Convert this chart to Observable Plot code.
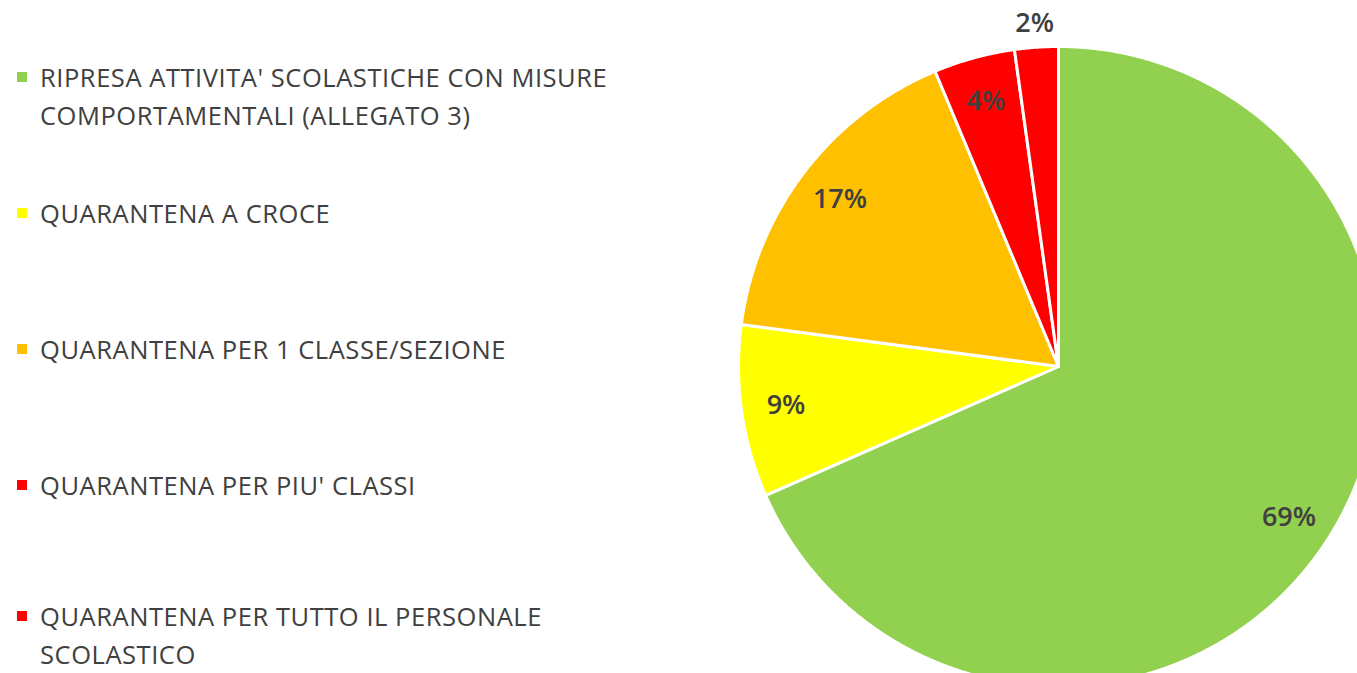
<!DOCTYPE html>
<html>
<head>
<meta charset="utf-8">
<script src="https://cdn.jsdelivr.net/npm/d3@7"></script>
<script src="https://cdn.jsdelivr.net/npm/@observablehq/plot@0.6"></script>
<style>
  html, body { margin: 0; padding: 0; background: #fff; }
  #wrap { position: relative; width: 1357px; height: 673px; overflow: hidden; }
  #legend { position: absolute; left: 0; top: 0; font-family: "Open Sans", sans-serif; color: #404040; font-size: 25.5px; letter-spacing: 0.55px; }
  .item { position: absolute; left: 40px; line-height: 38px; white-space: nowrap; }
  .sw { position: absolute; left: -23px; top: 14px; width: 10px; height: 10px; }
</style>
</head>
<body>
<div id="wrap"></div>
<script>
const categories = [
  "RIPRESA ATTIVITA' SCOLASTICHE CON MISURE\nCOMPORTAMENTALI (ALLEGATO 3)",
  "QUARANTENA A CROCE",
  "QUARANTENA PER 1 CLASSE/SEZIONE",
  "QUARANTENA PER PIU' CLASSI",
  "QUARANTENA PER TUTTO IL PERSONALE\nSCOLASTICO"
];
const values = [68.4, 8.7, 16.6, 4.1, 2.2];
const valueLabels = ["69%", "9%", "17%", "4%", "2%"];
const colors = ["#92D050", "#FFFF00", "#FFC000", "#FF0000", "#FF0000"];

const data = categories.map((c, i) => ({cat: c, value: values[i], label: valueLabels[i], color: colors[i]}));
const arcs = d3.pie().sort(null).value(d => d.value)(data);

const pts = [];
arcs.forEach((a, i) => {
  pts.push({i, x: 0, y: 0, color: a.data.color});
  const n = Math.max(4, Math.ceil((a.endAngle - a.startAngle) / 0.005));
  for (let k = 0; k <= n; k++) {
    const t = a.startAngle + (a.endAngle - a.startAngle) * k / n;
    pts.push({i, x: Math.sin(t), y: Math.cos(t), color: a.data.color});
  }
});

const labelPts = arcs.map(a => {
  const m = (a.startAngle + a.endAngle) / 2;
  const r = a.data.value < 3 ? 1.075 : 0.86;
  return {x: r * Math.sin(m), y: r * Math.cos(m), label: a.data.label};
});

const R = 320, cx = 1058, cy = 366, W = 1357, H = 673;
const chart = Plot.plot({
  width: W, height: H, margin: 0,
  x: {domain: [-cx / R, (W - cx) / R], axis: null},
  y: {domain: [-(H - cy) / R, cy / R], axis: null},
  color: {type: "identity"},
  style: {background: "transparent"},
  marks: [
    Plot.line(pts, {x: "x", y: "y", z: "i", fill: "color", stroke: "white", strokeWidth: 3, curve: "linear-closed"}),
    Plot.text(labelPts, {x: "x", y: "y", text: "label", fill: "#404040", fontSize: 27, fontWeight: 600, fontFamily: "\"Open Sans\", sans-serif"})
  ]
});
const wrap = document.getElementById("wrap");
wrap.appendChild(chart);

const legend = document.createElement("div");
legend.id = "legend";
categories.forEach((c, i) => {
  const it = document.createElement("div");
  it.className = "item";
  it.style.top = Math.min(58 + i * 136, 597) + "px";
  const sw = document.createElement("div");
  sw.className = "sw";
  sw.style.background = colors[i];
  it.appendChild(sw);
  c.split("\n").forEach((line, j) => {
    const d = document.createElement("div");
    d.textContent = line;
    it.appendChild(d);
  });
  legend.appendChild(it);
});
wrap.appendChild(legend);
</script>
</body>
</html>
